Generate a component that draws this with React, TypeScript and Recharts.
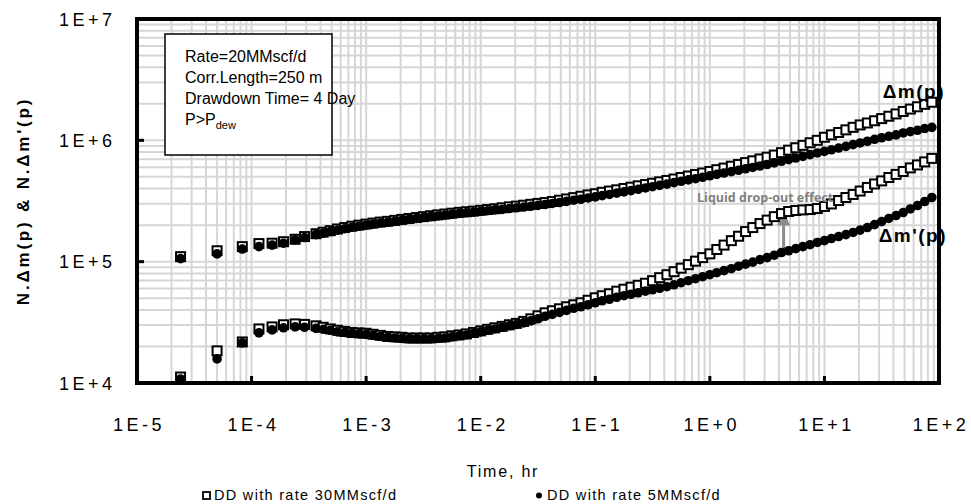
import { ScatterChart, Scatter, XAxis, YAxis, CartesianGrid, ReferenceLine } from 'recharts'

// time, hr (shared by all four series)
const timeHr = [
  2.4e-5, 5.0e-5, 8.3e-5, 1.16e-4, 1.51e-4, 1.9e-4, 2.4e-4, 2.9e-4,
  3.65e-4, 4.22e-4, 4.87e-4, 5.62e-4, 6.49e-4, 7.5e-4, 8.66e-4,
  1.0e-3, 1.15e-3, 1.33e-3, 1.54e-3, 1.78e-3, 2.05e-3, 2.37e-3, 2.74e-3, 3.16e-3, 3.65e-3, 4.22e-3, 4.87e-3, 5.62e-3, 6.49e-3, 7.5e-3, 8.66e-3,
  1.0e-2, 1.15e-2, 1.33e-2, 1.54e-2, 1.78e-2, 2.05e-2, 2.37e-2, 2.74e-2, 3.16e-2, 3.65e-2, 4.22e-2, 4.87e-2, 5.62e-2, 6.49e-2, 7.5e-2, 8.66e-2,
  0.1, 0.115, 0.133, 0.154, 0.178, 0.205, 0.237, 0.274, 0.316, 0.365, 0.422, 0.487, 0.562, 0.649, 0.75, 0.866,
  1.0, 1.15, 1.33, 1.54, 1.78, 2.05, 2.37, 2.74, 3.16, 3.65, 4.22, 4.87, 5.62, 6.49, 7.5, 8.66,
  10, 11.5, 13.3, 15.4, 17.8, 20.5, 23.7, 27.4, 31.6, 36.5, 42.2, 48.7, 56.2, 64.9, 75, 86.6,
]

// N.dm(p), DD with rate 30MMscf/d
const dmp30 = [
  1.10e5, 1.23e5, 1.33e5, 1.41e5, 1.42e5, 1.46e5, 1.53e5, 1.61e5,
  1.70e5, 1.75e5, 1.80e5, 1.86e5, 1.91e5, 1.96e5, 2.00e5,
  2.04e5, 2.08e5, 2.12e5, 2.15e5, 2.19e5, 2.23e5, 2.27e5, 2.31e5, 2.35e5, 2.39e5, 2.43e5, 2.47e5, 2.51e5, 2.55e5, 2.58e5, 2.61e5,
  2.65e5, 2.69e5, 2.73e5, 2.78e5, 2.83e5, 2.87e5, 2.92e5, 2.97e5, 3.02e5, 3.07e5, 3.13e5, 3.21e5, 3.29e5, 3.37e5, 3.46e5, 3.55e5,
  3.63e5, 3.73e5, 3.82e5, 3.91e5, 4.01e5, 4.11e5, 4.22e5, 4.32e5, 4.43e5, 4.55e5, 4.67e5, 4.80e5, 4.94e5, 5.08e5, 5.23e5, 5.38e5,
  5.54e5, 5.73e5, 5.91e5, 6.12e5, 6.33e5, 6.55e5, 6.78e5, 7.02e5, 7.26e5, 7.56e5, 7.91e5, 8.30e5, 8.69e5, 9.09e5, 9.55e5, 1.00e6,
  1.06e6, 1.11e6, 1.16e6, 1.22e6, 1.28e6, 1.34e6, 1.39e6, 1.45e6, 1.51e6, 1.58e6, 1.65e6, 1.73e6, 1.81e6, 1.89e6, 1.98e6, 2.06e6,
]

// N.dm(p), DD with rate 5MMscf/d
const dmp5 = [
  1.06e5, 1.16e5, 1.27e5, 1.33e5, 1.37e5, 1.42e5, 1.51e5, 1.58e5,
  1.67e5, 1.72e5, 1.77e5, 1.82e5, 1.87e5, 1.92e5, 1.96e5,
  2.00e5, 2.04e5, 2.08e5, 2.11e5, 2.15e5, 2.19e5, 2.23e5, 2.27e5, 2.31e5, 2.35e5, 2.38e5, 2.42e5, 2.46e5, 2.50e5, 2.53e5, 2.56e5,
  2.60e5, 2.63e5, 2.67e5, 2.70e5, 2.74e5, 2.78e5, 2.82e5, 2.86e5, 2.91e5, 2.96e5, 3.02e5, 3.07e5, 3.14e5, 3.21e5, 3.27e5, 3.35e5,
  3.42e5, 3.50e5, 3.58e5, 3.67e5, 3.76e5, 3.85e5, 3.95e5, 4.05e5, 4.15e5, 4.25e5, 4.36e5, 4.48e5, 4.60e5, 4.72e5, 4.83e5, 4.96e5,
  5.10e5, 5.24e5, 5.38e5, 5.52e5, 5.67e5, 5.83e5, 5.98e5, 6.14e5, 6.32e5, 6.52e5, 6.72e5, 6.93e5, 7.15e5, 7.38e5, 7.62e5, 7.87e5,
  8.11e5, 8.36e5, 8.64e5, 8.92e5, 9.21e5, 9.52e5, 9.83e5, 1.02e6, 1.05e6, 1.08e6, 1.11e6, 1.15e6, 1.18e6, 1.21e6, 1.25e6, 1.28e6,
]

// N.dm'(p), DD with rate 30MMscf/d
const dmpDer30 = [
  1.12e4, 1.84e4, 2.18e4, 2.79e4, 2.90e4, 3.02e4, 3.07e4, 3.04e4,
  2.96e4, 2.88e4, 2.79e4, 2.72e4, 2.66e4, 2.61e4, 2.59e4,
  2.57e4, 2.52e4, 2.47e4, 2.42e4, 2.40e4, 2.38e4, 2.35e4, 2.35e4, 2.35e4, 2.35e4, 2.38e4, 2.40e4, 2.45e4, 2.49e4, 2.54e4, 2.61e4,
  2.69e4, 2.77e4, 2.85e4, 2.93e4, 3.02e4, 3.10e4, 3.22e4, 3.38e4, 3.58e4, 3.79e4, 3.94e4, 4.09e4, 4.25e4, 4.41e4, 4.58e4, 4.81e4,
  5.04e4, 5.24e4, 5.44e4, 5.71e4, 5.93e4, 6.16e4, 6.39e4, 6.64e4, 6.97e4, 7.38e4, 7.81e4, 8.27e4, 8.84e4, 9.45e4, 1.01e5, 1.08e5,
  1.16e5, 1.26e5, 1.37e5, 1.49e5, 1.62e5, 1.77e5, 1.91e5, 2.06e5, 2.20e5, 2.35e5, 2.49e5, 2.59e5, 2.64e5, 2.67e5, 2.69e5, 2.74e5,
  2.85e5, 2.99e5, 3.19e5, 3.38e5, 3.58e5, 3.82e5, 4.09e5, 4.37e5, 4.63e5, 4.94e5, 5.24e5, 5.54e5, 5.93e5, 6.27e5, 6.64e5, 7.10e5,
]

// N.dm'(p), DD with rate 5MMscf/d
const dmpDer5 = [
  1.08e4, 1.58e4, 2.14e4, 2.59e4, 2.74e4, 2.85e4, 2.90e4, 2.88e4,
  2.82e4, 2.77e4, 2.72e4, 2.64e4, 2.61e4, 2.57e4, 2.54e4,
  2.52e4, 2.47e4, 2.42e4, 2.38e4, 2.35e4, 2.33e4, 2.31e4, 2.31e4, 2.31e4, 2.31e4, 2.33e4, 2.35e4, 2.40e4, 2.45e4, 2.49e4, 2.57e4,
  2.64e4, 2.72e4, 2.79e4, 2.88e4, 2.96e4, 3.04e4, 3.13e4, 3.25e4, 3.38e4, 3.55e4, 3.68e4, 3.82e4, 3.97e4, 4.13e4, 4.25e4, 4.41e4,
  4.58e4, 4.76e4, 4.90e4, 5.09e4, 5.24e4, 5.39e4, 5.54e4, 5.71e4, 5.87e4, 6.04e4, 6.22e4, 6.45e4, 6.71e4, 6.97e4, 7.24e4, 7.52e4,
  7.81e4, 8.11e4, 8.43e4, 8.75e4, 9.18e4, 9.54e4, 9.91e4, 1.04e5, 1.08e5, 1.13e5, 1.19e5, 1.23e5, 1.28e5, 1.33e5, 1.38e5, 1.44e5,
  1.49e5, 1.55e5, 1.61e5, 1.67e5, 1.74e5, 1.82e5, 1.91e5, 2.02e5, 2.14e5, 2.27e5, 2.40e5, 2.54e5, 2.72e5, 2.90e5, 3.13e5, 3.38e5,
]

// axis ticks: every log grid line, labels only on the decades
const xTicks = [
  1e-5, 2e-5, 3e-5, 4e-5, 5e-5, 6e-5, 7e-5, 8e-5, 9e-5,
  1e-4, 2e-4, 3e-4, 4e-4, 5e-4, 6e-4, 7e-4, 8e-4, 9e-4,
  1e-3, 2e-3, 3e-3, 4e-3, 5e-3, 6e-3, 7e-3, 8e-3, 9e-3,
  1e-2, 2e-2, 3e-2, 4e-2, 5e-2, 6e-2, 7e-2, 8e-2, 9e-2,
  0.1, 0.2, 0.3, 0.4, 0.5, 0.6, 0.7, 0.8, 0.9,
  1, 2, 3, 4, 5, 6, 7, 8, 9,
  10, 20, 30, 40, 50, 60, 70, 80, 90,
  100,
]
const xMajor = [1e-5, 1e-4, 1e-3, 1e-2, 0.1, 1, 10, 100]
const xLabels = ['1E-5', '1E-4', '1E-3', '1E-2', '1E-1', '1E+0', '1E+1', '1E+2']

const yTicks = [
  1e4, 2e4, 3e4, 4e4, 5e4, 6e4, 7e4, 8e4, 9e4,
  1e5, 2e5, 3e5, 4e5, 5e5, 6e5, 7e5, 8e5, 9e5,
  1e6, 2e6, 3e6, 4e6, 5e6, 6e6, 7e6, 8e6, 9e6,
  1e7,
]
const yMajor = [1e4, 1e5, 1e6, 1e7]
const yLabels = ['1E+4', '1E+5', '1E+6', '1E+7']

// annotation arrow (liquid drop-out effect)
const arrowTime = 4.4
const arrowFrom = 1.23e5
const arrowTo = 2.64e5

const W = 971
const H = 504
const M = { top: 19, right: 32, left: 0, bottom: 0 }
const Y_AXIS_W = 137
const X_AXIS_H = 121
const FONT = '"Liberation Sans", Arial, sans-serif'

const toPoints = (vals: number[]) => timeHr.map((t, i) => ({ t, v: vals[i] }))

const OpenSquare = (p: any) => (
  <rect x={p.cx - 4.5} y={p.cy - 4.5} width={9} height={9} fill="#fff" stroke="#000" strokeWidth={2} />
)
const Dot = (p: any) => <circle cx={p.cx} cy={p.cy} r={4.8} fill="#000" />

const XTick = (p: any) => {
  const i = xMajor.indexOf(p.payload.value)
  if (i < 0) return <g />
  return (
    <g>
      <line x1={p.x} x2={p.x} y1={p.y} y2={p.y - 7} stroke="#000" strokeWidth={3} />
      <text x={p.x + 2} y={p.y + 48} textAnchor="middle" fontFamily={FONT} fontSize={18} letterSpacing={3.5} fill="#000">
        {xLabels[i]}
      </text>
    </g>
  )
}

const YTick = (p: any) => {
  const i = yMajor.indexOf(p.payload.value)
  if (i < 0) return <g />
  return (
    <g>
      <line x1={p.x} x2={p.x + 7} y1={p.y} y2={p.y} stroke="#000" strokeWidth={3} />
      <text x={p.x - 21.5} y={p.y + 6.5} textAnchor="end" fontFamily={FONT} fontSize={18} letterSpacing={3.5} fill="#000">
        {yLabels[i]}
      </text>
    </g>
  )
}

const Arrow = (p: any) => {
  const { x1, y1, x2, y2 } = p
  return (
    <g>
      <line x1={x1} y1={y1} x2={x2} y2={y2 + 12} stroke="#8c8c8c" strokeWidth={3} />
      <polygon points={`${x2},${y2} ${x2 - 6.5},${y2 + 15} ${x2 + 6.5},${y2 + 15}`} fill="#8c8c8c" />
    </g>
  )
}

export default function App() {
  const plotX = M.left + Y_AXIS_W
  const plotY = M.top
  const plotW = W - M.right - plotX
  const plotH = H - M.bottom - X_AXIS_H - plotY

  return (
    <div style={{ position: 'absolute', left: 0, top: 0, width: W, height: H, background: '#fff' }}>
      <ScatterChart width={W} height={H} margin={M}>
        <CartesianGrid stroke="#d6d6d6" strokeWidth={2} />
        <XAxis
          dataKey="t"
          type="number"
          scale="log"
          domain={[1e-5, 100]}
          allowDataOverflow
          ticks={xTicks}
          interval={0}
          tick={XTick}
          tickSize={0}
          tickMargin={0}
          tickLine={false}
          axisLine={false}
          height={X_AXIS_H}
        />
        <YAxis
          dataKey="v"
          type="number"
          scale="log"
          domain={[1e4, 1e7]}
          allowDataOverflow
          ticks={yTicks}
          interval={0}
          tick={YTick}
          tickSize={0}
          tickMargin={0}
          tickLine={false}
          axisLine={false}
          width={Y_AXIS_W}
        />
        <Scatter data={toPoints(dmp30)} shape={OpenSquare} isAnimationActive={false} />
        <Scatter data={toPoints(dmpDer30)} shape={OpenSquare} isAnimationActive={false} />
        <Scatter data={toPoints(dmp5)} shape={Dot} isAnimationActive={false} />
        <Scatter data={toPoints(dmpDer5)} shape={Dot} isAnimationActive={false} />
        <ReferenceLine
          segment={[{ x: arrowTime, y: arrowFrom }, { x: arrowTime, y: arrowTo }]}
          shape={Arrow}
        />
      </ScatterChart>

      <svg width={W} height={H} style={{ position: 'absolute', left: 0, top: 0, pointerEvents: 'none' }}>
        <rect x={165} y={34} width={167} height={121} fill="#fff" stroke="#000" strokeWidth={1.5} />
        <g fontFamily={FONT} fontSize={16} fill="#000">
          <text x={185} y={62}>Rate=20MMscf/d</text>
          <text x={185} y={83}>Corr.Length=250 m</text>
          <text x={185} y={104}>Drawdown Time= 4 Day</text>
          <text x={185} y={125}>
            P&gt;P<tspan fontSize={11} dy={4}>dew</tspan>
          </text>
        </g>

        <text
          transform="translate(29,201) rotate(-90)"
          textAnchor="middle"
          fontFamily={FONT}
          fontWeight="bold"
          fontSize={17}
          letterSpacing={2.8}
          fill="#000"
        >
          N.Δm(p) &amp; N.Δm'(p)
        </text>

        <text x={945} y={98} textAnchor="end" fontFamily={FONT} fontWeight="bold" fontSize={19} letterSpacing={1.5} fill="#000">
          Δm(p)
        </text>
        <text x={947} y={242} textAnchor="end" fontFamily={FONT} fontWeight="bold" fontSize={19} letterSpacing={1.5} fill="#000">
          Δm'(p)
        </text>
        <text x={697} y={202} fontFamily='"Open Sans", sans-serif' fontWeight="bold" fontSize={12.5} fill="#808080">
          Liquid drop-out effect
        </text>

        {/* thick plot frame */}
        <rect x={plotX} y={plotY} width={plotW} height={plotH} fill="none" stroke="#000" strokeWidth={4} />

        <text x={503} y={477} textAnchor="middle" fontFamily={FONT} fontSize={16} letterSpacing={1.8} fill="#000">
          Time, hr
        </text>

        <rect x={203} y={492} width={7} height={7} fill="#fff" stroke="#000" strokeWidth={1.8} />
        <text x={214} y={500} fontFamily={FONT} fontSize={14.5} letterSpacing={1.3} fill="#000">
          DD with rate 30MMscf/d
        </text>
        <circle cx={539} cy={495.5} r={3} fill="#000" />
        <text x={547} y={500} fontFamily={FONT} fontSize={14.5} letterSpacing={1.3} fill="#000">
          DD with rate 5MMscf/d
        </text>
      </svg>
    </div>
  )
}
